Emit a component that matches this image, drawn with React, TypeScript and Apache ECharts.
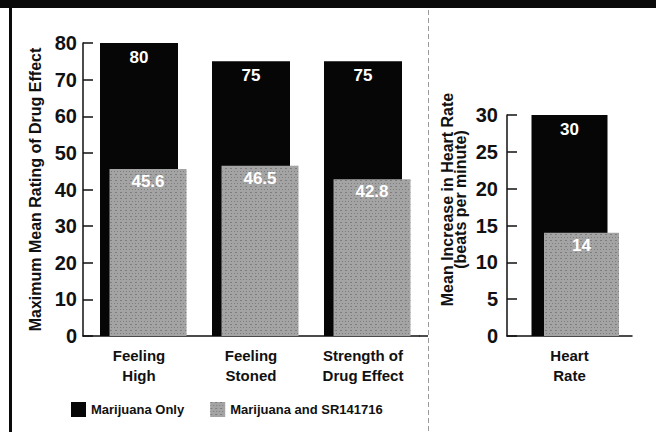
import { useEffect, useRef } from "react";
import * as echarts from "echarts";

const effectCategories = ["Feeling\nHigh", "Feeling\nStoned", "Strength of\nDrug Effect"];
const effectMarijuanaOnly = [80, 75, 75];
const effectWithSR = [45.6, 46.5, 42.8];
const effectAxisTicks = { min: 0, max: 80, interval: 10 };

const heartCategories = ["Heart\nRate"];
const heartMarijuanaOnly = [30];
const heartWithSR = [14];
const heartAxisTicks = { min: 0, max: 30, interval: 5 };

const seriesNames = ["Marijuana Only", "Marijuana and SR141716"];
const effectAxisName = "Maximum Mean Rating of Drug Effect";
const heartAxisName = "Mean Increase in Heart Rate\n(beats per minute)";

const FONT = "'Liberation Sans', Arial, Helvetica, sans-serif";
const INK = "#111111";
const BLACK = "#060606";
const GREY = "#a4a4a4";

const speckle = {
  symbol: "rect",
  symbolSize: 1,
  color: "rgba(50,50,50,0.35)",
  dashArrayX: [
    [1, 2],
    [2, 3],
  ],
  dashArrayY: [1, 2],
  rotation: 0,
};

export default function App() {
  const ref = useRef<HTMLDivElement>(null);

  useEffect(() => {
    if (!ref.current) return;
    const chart = echarts.init(ref.current, undefined, { renderer: "svg" });

    const catAxis = (gridIndex: number, data: string[], show: boolean) => ({
      type: "category",
      gridIndex,
      data,
      show,
      axisLine: { show: true, lineStyle: { color: INK, width: 1.5 } },
      axisTick: { show: false },
      axisLabel: {
        color: INK,
        fontFamily: FONT,
        fontSize: 15,
        fontWeight: "bold",
        lineHeight: 20,
        margin: 9,
      },
    });

    const valAxis = (
      gridIndex: number,
      t: { min: number; max: number; interval: number },
      show: boolean,
      name: string,
      nameGap: number,
      labelMargin: number,
      namePadding: number[]
    ) => ({
      type: "value",
      gridIndex,
      show,
      min: t.min,
      max: t.max,
      interval: t.interval,
      name,
      nameLocation: "middle",
      nameRotate: 90,
      nameGap,
      nameTextStyle: {
        color: INK,
        fontFamily: FONT,
        fontSize: 16,
        fontWeight: "bold",
        lineHeight: 13,
        padding: namePadding,
      },
      axisLine: { show: true, lineStyle: { color: INK, width: 1.5 } },
      axisTick: { show: true, inside: true, length: 10, lineStyle: { color: INK, width: 1.5 } },
      splitLine: { show: false },
      axisLabel: {
        color: INK,
        fontFamily: FONT,
        fontSize: 20,
        fontWeight: "bold",
        margin: labelMargin,
      },
    });

    const valueLabel = (distance: number) => ({
      show: true,
      position: "insideTop",
      distance,
      color: "#ffffff",
      fontFamily: FONT,
      fontSize: 17,
      fontWeight: "bold",
    });

    chart.setOption({
      animation: false,
      backgroundColor: "#ffffff",
      grid: [
        { left: 83, top: 43, width: 336, height: 293 },
        { left: 92, top: 43, width: 336, height: 293 },
        { left: 507, top: 115, width: 125, height: 221 },
        { left: 519, top: 115, width: 125, height: 221 },
      ],
      xAxis: [
        catAxis(0, effectCategories, true),
        catAxis(1, effectCategories, false),
        catAxis(2, heartCategories, true),
        catAxis(3, heartCategories, false),
      ],
      yAxis: [
        valAxis(0, effectAxisTicks, true, effectAxisName, 35, 6, [0, 0, 0, 0]),
        valAxis(1, effectAxisTicks, false, "", 0, 6, [0, 0, 0, 0]),
        valAxis(2, heartAxisTicks, true, heartAxisName, 40, 9, [0, 0, 0, 52]),
        valAxis(3, heartAxisTicks, false, "", 0, 9, [0, 0, 0, 0]),
      ],
      legend: {
        data: seriesNames,
        left: 66,
        top: 397,
        itemWidth: 15,
        itemHeight: 15,
        itemGap: 26,
        icon: "rect",
        textStyle: { color: INK, fontFamily: FONT, fontSize: 13, fontWeight: "bold" },
      },
      series: [
        {
          name: seriesNames[0],
          type: "bar",
          xAxisIndex: 0,
          yAxisIndex: 0,
          barWidth: 78,
          data: effectMarijuanaOnly,
          itemStyle: { color: BLACK },
          label: valueLabel(6),
        },
        {
          name: seriesNames[1],
          type: "bar",
          xAxisIndex: 1,
          yAxisIndex: 1,
          barWidth: 77,
          data: effectWithSR,
          itemStyle: { color: GREY, decal: speckle },
          label: valueLabel(4),
        },
        {
          name: seriesNames[0],
          type: "bar",
          xAxisIndex: 2,
          yAxisIndex: 2,
          barWidth: 76,
          data: heartMarijuanaOnly,
          itemStyle: { color: BLACK },
          label: valueLabel(6),
        },
        {
          name: seriesNames[1],
          type: "bar",
          xAxisIndex: 3,
          yAxisIndex: 3,
          barWidth: 75,
          data: heartWithSR,
          itemStyle: { color: GREY, decal: speckle },
          label: valueLabel(4),
        },
      ],
      graphic: [
        { type: "rect", shape: { x: 0, y: 0, width: 656, height: 8 }, style: { fill: "#0a0a0a" } },
        { type: "rect", shape: { x: 9, y: 0, width: 3, height: 432 }, style: { fill: "#0a0a0a" } },
        {
          type: "line",
          shape: { x1: 428.5, y1: 10, x2: 428.5, y2: 432 },
          style: { stroke: "#9a9a9a", lineWidth: 1, lineDash: [5, 3] },
        },
        {
          type: "line",
          shape: { x1: 419, y1: 336, x2: 428, y2: 336 },
          style: { stroke: INK, lineWidth: 1.5 },
        },
      ],
    });

    return () => chart.dispose();
  }, []);

  return (
    <div
      ref={ref}
      style={{ position: "fixed", left: 0, top: 0, width: 656, height: 432, background: "#fff" }}
    />
  );
}
